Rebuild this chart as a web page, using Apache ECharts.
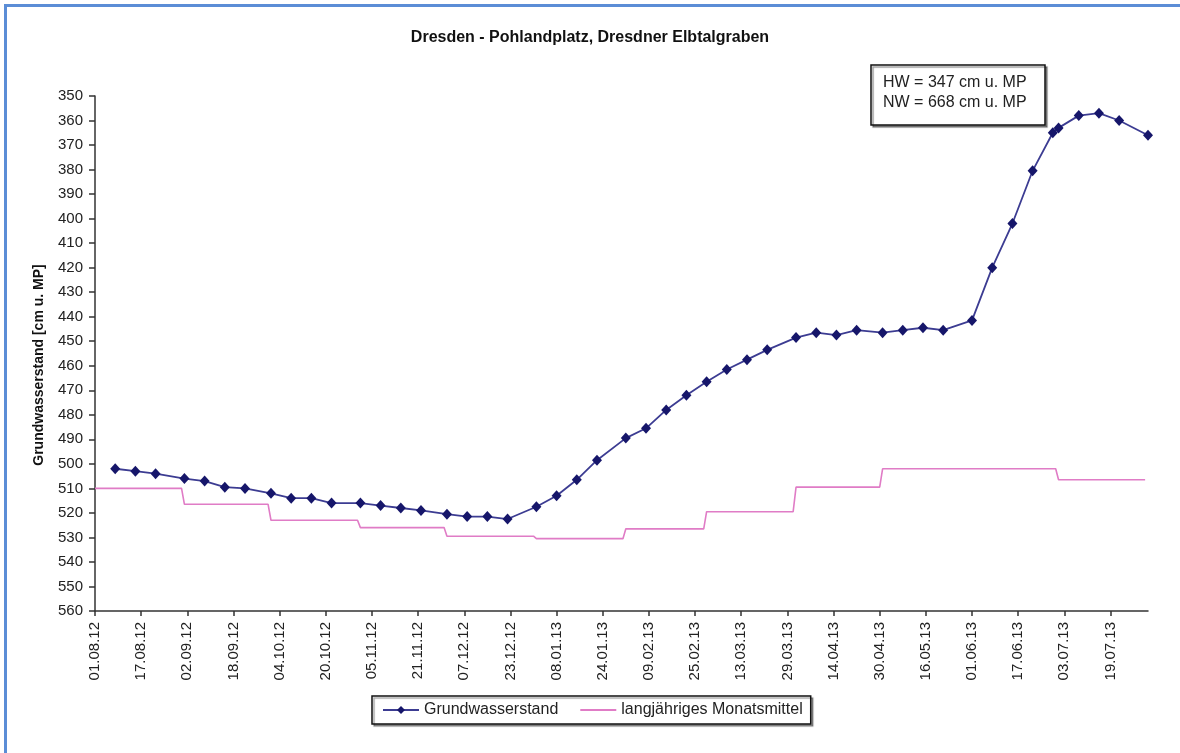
<!DOCTYPE html>
<html>
<head>
<meta charset="utf-8">
<script src="https://cdn.jsdelivr.net/npm/echarts@6/dist/echarts.min.js"></script>
<style>
  html, body { margin: 0; padding: 0; background: #fff; }
  #wrap { position: absolute; left: 0; top: 0; width: 1180px; height: 753px; overflow: hidden; }
  #frame { position: absolute; left: 4px; top: 4px; width: 1300px; height: 900px;
           border-left: 3px solid #5b8dd6; border-top: 3px solid #5b8dd6; }
  #chart { position: absolute; left: 0; top: 0; width: 1180px; height: 753px; }
</style>
</head>
<body>
<div id="wrap">
  <div id="frame"></div>
  <div id="chart"></div>
</div>
<script>
// Messwerte Grundwasserstand (cm unter Messpunkt)
const gwDates = [
  '2012-08-08','2012-08-15','2012-08-22',
  '2012-09-01','2012-09-08','2012-09-15','2012-09-22',
  '2012-10-01','2012-10-08','2012-10-15','2012-10-22',
  '2012-11-01','2012-11-08','2012-11-15','2012-11-22',
  '2012-12-01','2012-12-08','2012-12-15','2012-12-22',
  '2013-01-01','2013-01-08','2013-01-15','2013-01-22',
  '2013-02-01','2013-02-08','2013-02-15','2013-02-22',
  '2013-03-01','2013-03-08','2013-03-15','2013-03-22',
  '2013-04-01','2013-04-08','2013-04-15','2013-04-22',
  '2013-05-01','2013-05-08','2013-05-15','2013-05-22',
  '2013-06-01','2013-06-08','2013-06-15','2013-06-22','2013-06-29',
  '2013-07-01','2013-07-08','2013-07-15','2013-07-22',
  '2013-08-01'
];
const gwValues = [
  502, 503, 504,
  506, 507, 509.5, 510,
  512, 514, 514, 516,
  516, 517, 518, 519,
  520.5, 521.5, 521.5, 522.5,
  517.5, 513, 506.5, 498.5,
  489.5, 485.5, 478, 472,
  466.5, 461.5, 457.5, 453.5,
  448.5, 446.5, 447.5, 445.5,
  446.5, 445.5, 444.5, 445.5,
  441.5, 420, 402, 380.5, 365,
  363, 358, 357, 360,
  366
];

// langjähriges Monatsmittel, je Monat ein Wert
const monthStarts = [
  '2012-08-01','2012-09-01','2012-10-01','2012-11-01','2012-12-01','2013-01-01',
  '2013-02-01','2013-03-01','2013-04-01','2013-05-01','2013-06-01','2013-07-01'
];
const monthEnd = '2013-07-31';
const monthMeans = [510, 516.5, 523, 526, 529.5, 530.5, 526.5, 519.5, 509.5, 502, 502, 506.5];

// Achsenbeschriftung
const xTickLabels = [
  '01.08.12','17.08.12','02.09.12','18.09.12','04.10.12','20.10.12','05.11.12','21.11.12',
  '07.12.12','23.12.12','08.01.13','24.01.13','09.02.13','25.02.13','13.03.13','29.03.13',
  '14.04.13','30.04.13','16.05.13','01.06.13','17.06.13','03.07.13','19.07.13'
];
const xStart = '2012-08-01';
const xEnd = '2013-08-01';
const yMin = 350, yMax = 560, yStep = 10;

const DAY = 86400000;
function utc(iso) {
  const p = iso.split('-').map(Number);
  return Date.UTC(p[0], p[1] - 1, p[2]);
}
const t0 = utc(xStart);
function dayOf(iso) { return Math.round((utc(iso) - t0) / DAY); }
function dayOfLabel(lbl) {
  const p = lbl.split('.');
  return dayOf('20' + p[2] + '-' + p[1] + '-' + p[0]);
}

const gwData = gwDates.map((d, i) => [dayOf(d), gwValues[i]]);

// Treppenlinie: Monatsanfang bis Monatsende auf gleichem Niveau
const meanData = [];
monthStarts.forEach((m, i) => {
  const s = dayOf(m);
  const e = i + 1 < monthStarts.length ? dayOf(monthStarts[i + 1]) - 1 : dayOf(monthEnd);
  meanData.push([s, monthMeans[i]], [e, monthMeans[i]]);
});

const tickDays = xTickLabels.map(dayOfLabel);
const labelByDay = {};
tickDays.forEach((d, i) => { labelByDay[d] = xTickLabels[i]; });

const FONT = '"Liberation Sans", Arial, sans-serif';
const chart = echarts.init(document.getElementById('chart'), null, { renderer: 'canvas' });

chart.setOption({
  animation: false,
  title: {
    text: 'Dresden - Pohlandplatz, Dresdner Elbtalgraben',
    left: 'center',
    top: 25,
    textStyle: { fontFamily: FONT, fontSize: 16, fontWeight: 'bold', color: '#111' }
  },
  grid: { left: 95, right: 32, top: 96, bottom: 142, containLabel: false },
  xAxis: {
    type: 'value',
    min: 0,
    max: dayOf(xEnd),
    axisLine: { show: true, onZero: false, lineStyle: { color: '#333', width: 1.5 } },
    axisTick: { show: true, inside: false, length: 5, customValues: tickDays, lineStyle: { color: '#333', width: 1.5 } },
    axisLabel: {
      customValues: tickDays,
      rotate: 90,
      margin: 11,
      fontFamily: FONT,
      fontSize: 15,
      color: '#222',
      formatter: v => labelByDay[v] || ''
    },
    splitLine: { show: false }
  },
  yAxis: {
    type: 'value',
    inverse: true,
    min: yMin,
    max: yMax,
    interval: yStep,
    axisLine: { show: true, lineStyle: { color: '#333', width: 1.5 } },
    axisTick: { show: true, inside: false, length: 6, lineStyle: { color: '#333', width: 1.5 } },
    axisLabel: { margin: 12, fontFamily: FONT, fontSize: 15, color: '#222' },
    splitLine: { show: false }
  },
  legend: {
    left: 372,
    top: 696,
    orient: 'horizontal',
    padding: [6, 8, 6, 10],
    itemGap: 21,
    itemWidth: 36,
    itemHeight: 10,
    borderColor: '#111',
    borderWidth: 1.5,
    backgroundColor: '#fff',
    shadowColor: 'rgba(0,0,0,0.35)',
    shadowOffsetX: 2,
    shadowOffsetY: 2,
    shadowBlur: 1,
    textStyle: { fontFamily: FONT, fontSize: 16, color: '#222', padding: [0, 0, 0, 0] },
    data: [
      { name: 'Grundwasserstand' },
      { name: 'langjähriges Monatsmittel', itemStyle: { opacity: 0 } }
    ]
  },
  graphic: [
    {
      type: 'text',
      x: 39, y: 365,
      rotation: Math.PI / 2,
      style: {
        text: 'Grundwasserstand [cm u. MP]',
        font: 'bold 14px ' + FONT,
        fill: '#111',
        align: 'center',
        verticalAlign: 'middle'
      }
    },
    {
      type: 'group',
      x: 871,
      y: 65,
      children: [
        {
          type: 'rect',
          shape: { x: 0, y: 0, width: 174, height: 60 },
          style: {
            fill: '#fff', stroke: '#111', lineWidth: 1.5,
            shadowColor: 'rgba(0,0,0,0.4)', shadowOffsetX: 2, shadowOffsetY: 2, shadowBlur: 1
          }
        },
        {
          type: 'text', x: 12, y: 18,
          style: { text: 'HW = 347 cm u. MP', font: '16px ' + FONT, fill: '#222', verticalAlign: 'middle' }
        },
        {
          type: 'text', x: 12, y: 38,
          style: { text: 'NW = 668 cm u. MP', font: '16px ' + FONT, fill: '#222', verticalAlign: 'middle' }
        }
      ]
    }
  ],
  series: [
    {
      name: 'Grundwasserstand',
      type: 'line',
      data: gwData,
      symbol: 'diamond',
      symbolSize: [10, 11],
      showAllSymbol: true,
      lineStyle: { color: '#3c3c92', width: 1.8 },
      itemStyle: { color: '#16166a' },
      z: 3
    },
    {
      name: 'langjähriges Monatsmittel',
      type: 'line',
      data: meanData,
      symbol: 'none',
      showSymbol: false,
      lineStyle: { color: '#e07cc6', width: 1.6 },
      itemStyle: { color: '#e07cc6' },
      z: 2
    }
  ]
});
</script>
</body>
</html>
